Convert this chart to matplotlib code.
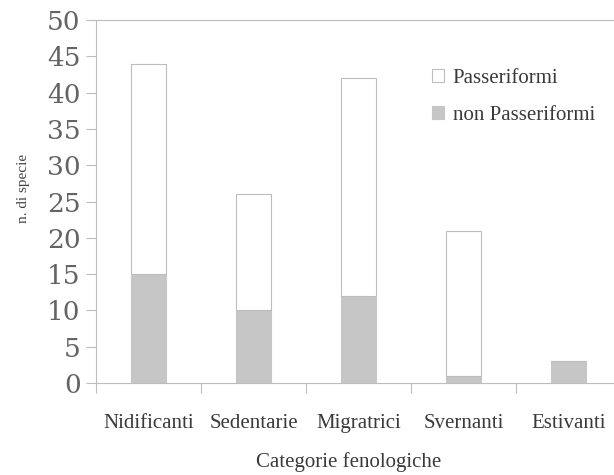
import matplotlib
matplotlib.use("Agg")
import matplotlib.pyplot as plt
import numpy as np

categories = ["Nidificanti", "Sedentarie", "Migratrici", "Svernanti", "Estivanti"]
non_passeriformi = [15, 10, 12, 1, 3]
passeriformi = [29, 16, 30, 20, 0]
yticks = [0, 5, 10, 15, 20, 25, 30, 35, 40, 45, 50]

plt.rcParams['font.family'] = ['Liberation Serif', 'DejaVu Serif']

fig = plt.figure(figsize=(6.14, 4.75), dpi=100)
ax = fig.add_axes([96/614, 92/475, 525/614, 363/475])

x = np.arange(len(categories))
w = 0.33
edge = "#bdbdbd"
ax.bar(x, non_passeriformi, w, color="#c6c6c6", edgecolor="#c6c6c6", linewidth=0.8,
       label="non Passeriformi", zorder=2)
ax.bar(x, passeriformi, w, bottom=non_passeriformi, color="white", edgecolor=edge,
       linewidth=0.8, label="Passeriformi", zorder=2)

ax.set_xlim(-0.5, 4.5)
ax.set_ylim(0, 50)
ax.set_yticks(yticks)
ax.set_yticklabels([str(v) for v in yticks], fontsize=19, color="#646464",
                   family=['DejaVu Serif'])
ax.set_xticks(np.arange(-0.5, 4.6, 1.0))
ax.set_xticklabels([])
ax.set_xticks(x, minor=True)
ax.set_xticklabels(categories, minor=True, fontsize=15, color="#3a3a3a")
ax.tick_params(axis='x', which='minor', length=0, pad=22)
ax.tick_params(axis='x', which='major', length=7, color=edge, width=0.8, direction='out')
ax.tick_params(axis='y', length=7, color=edge, width=0.8, direction='out', pad=4)

for s in ["left", "bottom", "top"]:
    ax.spines[s].set_color(edge)
    ax.spines[s].set_linewidth(0.8)
ax.spines["right"].set_visible(False)

ax.set_ylabel("n. di specie", fontsize=11, color="#444444")
ax.yaxis.set_label_coords((30-96)/525, (383-188)/363)
ax.set_xlabel("Categorie fenologiche", fontsize=15, color="#3a3a3a")
ax.xaxis.set_label_coords((349-96)/525, (383-462)/363)
ax.xaxis.label.set_verticalalignment('center')

h, l = ax.get_legend_handles_labels()
leg = ax.legend(h[::-1], l[::-1], loc="upper left", bbox_to_anchor=(0.604, 0.917),
                frameon=False, fontsize=15, handlelength=0.6, handleheight=0.6,
                handletextpad=0.4, labelspacing=0.85, labelcolor="#3a3a3a")

fig.savefig("out.png", dpi=100)
